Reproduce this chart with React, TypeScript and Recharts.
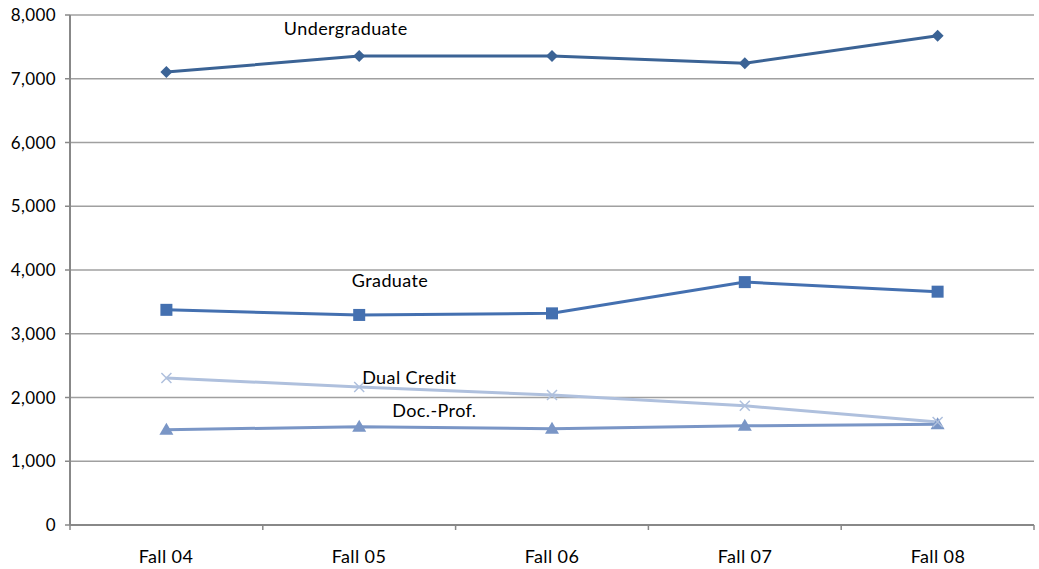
import React from "react";
import { LineChart, Line, XAxis, YAxis, CartesianGrid, ReferenceDot } from "recharts";

const categories = ["Fall 04", "Fall 05", "Fall 06", "Fall 07", "Fall 08"];
const undergraduate = [7105, 7355, 7355, 7245, 7675];
const graduate = [3375, 3295, 3320, 3810, 3660];
const dualCredit = [2305, 2165, 2040, 1870, 1615];
const docProf = [1495, 1540, 1510, 1555, 1580];
const yTicks = [0, 1000, 2000, 3000, 4000, 5000, 6000, 7000, 8000];
const boundaryTicks = [0, 1, 2, 3, 4, 5];

const data = categories.map((c, i) => ({
  cat: c,
  idx: i + 0.5,
  undergraduate: undergraduate[i],
  graduate: graduate[i],
  dualCredit: dualCredit[i],
  docProf: docProf[i],
}));

const FONT = "Lato, 'Open Sans', sans-serif";
const FS = 18;
const LS = 0.4;

const Diamond = (props: any) => {
  const { cx, cy, index } = props;
  const s = 6;
  return <path key={index} d={`M${cx},${cy - s}L${cx + s},${cy}L${cx},${cy + s}L${cx - s},${cy}Z`} fill="#3B6395" />;
};
const Square = (props: any) => {
  const { cx, cy, index } = props;
  const s = 6;
  return <rect key={index} x={cx - s} y={cy - s} width={2 * s} height={2 * s} fill="#4470B0" />;
};
const Triangle = (props: any) => {
  const { cx, cy, index } = props;
  return <path key={index} d={`M${cx},${cy - 7}L${cx + 7},${cy + 5}L${cx - 7},${cy + 5}Z`} fill="#7A96C6" />;
};
const Cross = (props: any) => {
  const { cx, cy, index } = props;
  const s = 5;
  return (
    <path key={index} d={`M${cx - s},${cy - s}L${cx + s},${cy + s}M${cx - s},${cy + s}L${cx + s},${cy - s}`} stroke="#AFC0DD" strokeWidth={1.5} fill="none" />
  );
};

const makeLabel = (text: string) => (props: any) => {
  const { viewBox } = props;
  const x = viewBox.x + viewBox.width / 2;
  const y = viewBox.y + viewBox.height / 2;
  return (
    <text x={x} y={y} textAnchor="middle" dominantBaseline="central" fontFamily={FONT} fontSize={FS} letterSpacing={LS} fill="#000">
      {text}
    </text>
  );
};

const EmptyTick = () => <g />;

export default function App() {
  return (
    <div style={{ position: "absolute", left: 0, top: 0 }}>
      <LineChart width={1039} height={569} data={data} margin={{ top: 15, right: 5, bottom: 0, left: 0 }}>
        <CartesianGrid horizontal vertical={false} stroke="#A0A0A0" strokeWidth={1.5} />
        <XAxis
          dataKey="idx"
          type="number"
          domain={[0, 5]}
          ticks={boundaryTicks}
          interval={0}
          height={6}
          axisLine={{ stroke: "#888", strokeWidth: 2 }}
          tickLine={{ stroke: "#888", strokeWidth: 1.5 }}
          tickSize={5}
          tick={EmptyTick}
        />
        <XAxis
          xAxisId="labels"
          dataKey="cat"
          height={38}
          padding={{ left: 96, right: 96 }}
          axisLine={false}
          tickLine={false}
          tickSize={0}
          tickMargin={19}
          tick={{ fontFamily: FONT, fontSize: FS, letterSpacing: LS, fill: "#000" }}
          interval={0}
        />
        <YAxis
          domain={[0, 8000]}
          ticks={yTicks}
          width={70}
          axisLine={{ stroke: "#888", strokeWidth: 2 }}
          tickLine={{ stroke: "#888", strokeWidth: 1.5 }}
          tickSize={5}
          tickMargin={9}
          tickFormatter={(v: number) => v.toLocaleString("en-US")}
          tick={{ fontFamily: FONT, fontSize: FS - 1, letterSpacing: LS, fill: "#000" }}
          interval={0}
        />
        <Line dataKey="undergraduate" stroke="#3B6395" strokeWidth={3} dot={Diamond} isAnimationActive={false} />
        <Line dataKey="graduate" stroke="#4470B0" strokeWidth={3} dot={Square} isAnimationActive={false} />
        <Line dataKey="docProf" stroke="#7A96C6" strokeWidth={3} dot={Triangle} isAnimationActive={false} />
        <Line dataKey="dualCredit" stroke="#AFC0DD" strokeWidth={3} dot={Cross} isAnimationActive={false} />
        <ReferenceDot x={1.43} y={7800} r={0} fill="none" stroke="none" label={makeLabel("Undergraduate")} />
        <ReferenceDot x={1.66} y={3840} r={0} fill="none" stroke="none" label={makeLabel("Graduate")} />
        <ReferenceDot x={1.76} y={2325} r={0} fill="none" stroke="none" label={makeLabel("Dual Credit")} />
        <ReferenceDot x={1.89} y={1805} r={0} fill="none" stroke="none" label={makeLabel("Doc.-Prof.")} />
      </LineChart>
    </div>
  );
}
